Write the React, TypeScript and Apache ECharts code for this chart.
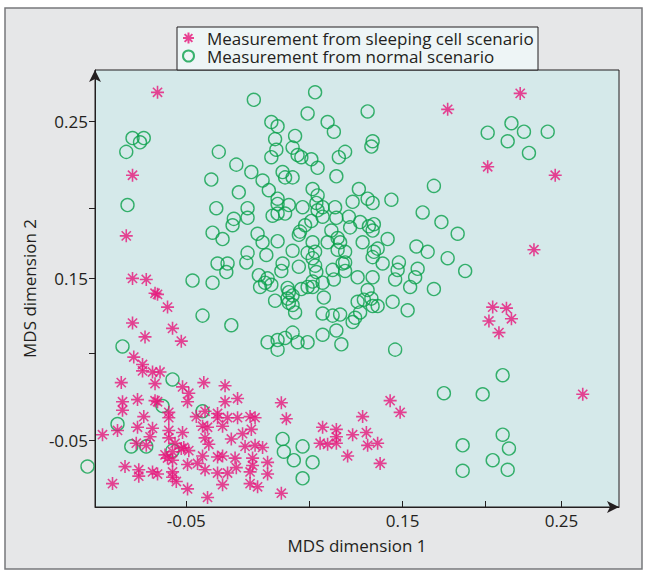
import React, { useEffect, useRef } from "react";
import * as echarts from "echarts";

const normalPoints: [number, number][] = [
  [-0.093, 0.234], [-0.087, 0.230], [-0.084, 0.234], [-0.098, 0.221], [-0.097, 0.171],
  [-0.101, 0.038], [-0.061, 0.007], [-0.069, -0.018], [-0.037, -0.023], [-0.105, -0.035],
  [-0.094, -0.056], [-0.082, -0.056], [-0.061, -0.060], [-0.129, -0.075], [-0.037, 0.067],
  [-0.014, 0.058], [0.027, -0.049], [0.028, -0.061], [0.043, -0.056], [0.036, -0.069],
  [0.051, -0.071], [0.043, -0.086], [0.117, 0.035], [0.203, 0.011], [0.156, -0.006],
  [0.187, -0.007], [0.203, -0.045], [0.208, -0.058], [0.171, -0.055], [0.195, -0.069],
  [0.171, -0.079], [0.207, -0.078], [0.191, 0.239], [0.210, 0.248], [0.220, 0.240],
  [0.207, 0.231], [0.224, 0.220], [0.239, 0.240],
  [0.004, 0.270], [0.053, 0.277], [0.047, 0.257], [0.018, 0.249], [0.023, 0.245], [0.063, 0.249], [0.068, 0.240], [0.095, 0.259], [0.037, 0.236], [0.021, 0.233],
  [0.035, 0.225], [0.039, 0.218], [0.042, 0.216], [0.022, 0.223], [0.018, 0.216], [0.050, 0.214], [0.055, 0.206], [0.099, 0.231], [0.098, 0.226], [0.077, 0.221],
  [0.072, 0.216], [0.070, 0.198], [0.027, 0.202], [0.029, 0.197], [0.035, 0.197], [0.002, 0.202], [0.011, 0.194], [0.016, 0.185], [-0.010, 0.209], [-0.024, 0.221],
  [-0.030, 0.195], [-0.008, 0.183], [-0.026, 0.168], [-0.001, 0.168], [0.023, 0.177], [0.023, 0.172], [0.032, 0.171], [0.043, 0.169], [0.051, 0.186], [0.055, 0.180],
  [0.054, 0.173], [0.019, 0.161], [0.023, 0.163], [0.029, 0.163], [-0.012, 0.158], [-0.001, 0.159], [-0.013, 0.152], [-0.029, 0.145], [-0.021, 0.139], [0.059, 0.169],
  [0.069, 0.169], [0.080, 0.160], [0.070, 0.159], [0.088, 0.186], [0.095, 0.177], [0.099, 0.173], [0.083, 0.174], [0.114, 0.176], [0.148, 0.189], [0.139, 0.164],
  [0.154, 0.155], [0.167, 0.144], [0.089, 0.155], [0.096, 0.151], [0.100, 0.153], [0.099, 0.147], [0.081, 0.150], [0.111, 0.139], [0.091, 0.136], [0.066, 0.147],
  [0.063, 0.136], [0.071, 0.140], [0.073, 0.136], [0.077, 0.127], [0.071, 0.129], [0.077, 0.117], [0.067, 0.110], [0.068, 0.101], [0.075, 0.116], [0.077, 0.109],
  [0.087, 0.103], [0.099, 0.103], [0.103, 0.130], [0.100, 0.127], [0.099, 0.122], [0.107, 0.116], [0.120, 0.117], [0.119, 0.110], [0.117, 0.101], [0.134, 0.132],
  [0.143, 0.127], [0.159, 0.121], [0.135, 0.111], [0.133, 0.103], [0.129, 0.094], [0.148, 0.092], [0.173, 0.109], [0.095, 0.091], [0.087, 0.080], [0.092, 0.082],
  [0.098, 0.083], [0.099, 0.076], [0.103, 0.076], [0.115, 0.080], [0.127, 0.072], [0.060, 0.084], [0.059, 0.069], [0.067, 0.067], [0.073, 0.068], [0.083, 0.061],
  [0.085, 0.065], [0.089, 0.070], [0.070, 0.053], [0.059, 0.049], [0.074, 0.040], [0.051, 0.136], [0.053, 0.127], [0.051, 0.121], [0.053, 0.114], [0.054, 0.108],
  [0.051, 0.094], [0.059, 0.098], [0.041, 0.146], [0.040, 0.143], [0.045, 0.152], [0.050, 0.156], [0.007, 0.144], [0.011, 0.136], [0.014, 0.124], [0.023, 0.137],
  [0.035, 0.128], [0.040, 0.113], [0.047, 0.126], [-0.001, 0.126], [-0.002, 0.117], [-0.025, 0.116], [-0.017, 0.116], [-0.018, 0.108], [-0.045, 0.100], [-0.029, 0.098],
  [0.027, 0.116], [0.026, 0.109], [0.008, 0.105], [0.009, 0.094], [0.015, 0.102], [0.018, 0.096], [0.013, 0.098], [0.031, 0.093], [0.021, 0.081], [0.032, 0.089],
  [0.035, 0.086], [0.032, 0.079], [0.035, 0.077], [0.037, 0.070], [0.031, 0.083], [0.042, 0.092], [0.047, 0.094], [0.051, 0.099], [0.015, 0.042], [0.023, 0.044],
  [0.023, 0.035], [0.029, 0.046], [0.035, 0.051], [0.039, 0.042], [0.047, 0.042], [0.059, 0.160], [0.055, 0.166],
];

const sleepingPoints: [number, number][] = [
  [-0.073, 0.277], [-0.093, 0.199], [-0.098, 0.142], [-0.093, 0.102], [-0.082, 0.101], [-0.075, 0.088], [-0.073, 0.087], [-0.065, 0.075], [-0.093, 0.060], [-0.061, 0.055],
  [-0.083, 0.047], [-0.054, 0.043], [0.159, 0.261], [0.217, 0.276], [0.191, 0.207], [0.245, 0.199], [0.228, 0.129], [0.195, 0.075], [0.206, 0.074], [0.192, 0.062],
  [0.210, 0.064], [0.200, 0.051], [0.267, -0.007], [0.113, -0.013], [0.121, -0.024], [0.091, -0.028], [0.070, -0.040], [0.070, -0.047], [0.070, -0.053], [0.059, -0.038],
  [0.057, -0.053], [0.063, -0.054], [0.083, -0.045], [0.094, -0.043], [0.095, -0.055], [0.103, -0.053], [0.079, -0.065], [0.105, -0.072],
  [-0.092, 0.028], [-0.085, 0.021], [-0.085, 0.015], [-0.077, 0.014], [-0.071, 0.014], [-0.102, 0.004], [-0.075, 0.003], [-0.036, 0.004], [-0.019, 0.001], [-0.053, 0.000],
  [-0.048, -0.006], [-0.049, -0.014], [-0.009, -0.011], [0.026, -0.015], [0.030, -0.030], [-0.101, -0.014], [-0.101, -0.022], [-0.089, -0.012], [-0.075, -0.013], [-0.073, -0.014],
  [-0.019, -0.014], [-0.064, -0.024], [-0.064, -0.029], [-0.084, -0.028], [-0.117, -0.045], [-0.105, -0.041], [-0.089, -0.038], [-0.077, -0.039], [-0.079, -0.047], [-0.064, -0.041],
  [-0.064, -0.048], [-0.053, -0.043], [-0.042, -0.028], [-0.035, -0.023], [-0.025, -0.025], [-0.025, -0.029], [-0.017, -0.029], [-0.009, -0.029], [0.001, -0.028], [0.005, -0.029],
  [-0.037, -0.037], [-0.033, -0.038], [-0.021, -0.037], [0.002, -0.040], [-0.005, -0.044], [-0.035, -0.048], [-0.032, -0.054], [-0.014, -0.049], [-0.090, -0.053], [-0.082, -0.055],
  [-0.059, -0.053], [-0.052, -0.057], [-0.048, -0.060], [-0.003, -0.056], [0.005, -0.055], [0.011, -0.057], [-0.067, -0.064], [-0.065, -0.067], [-0.061, -0.061], [-0.061, -0.069],
  [-0.054, -0.058], [-0.037, -0.065], [-0.025, -0.066], [-0.021, -0.065], [-0.011, -0.067], [0.003, -0.067], [-0.049, -0.073], [-0.041, -0.072], [-0.010, -0.076], [0.003, -0.074],
  [0.015, -0.071], [-0.099, -0.075], [-0.088, -0.078], [-0.088, -0.084], [-0.077, -0.080], [-0.073, -0.082], [-0.061, -0.080], [-0.061, -0.085], [-0.058, -0.089], [-0.035, -0.078],
  [-0.025, -0.081], [-0.017, -0.081], [0.001, -0.080], [0.015, -0.082], [-0.109, -0.091], [-0.049, -0.096], [-0.021, -0.092], [0.001, -0.091], [0.007, -0.094], [-0.033, -0.104],
  [0.026, -0.100],
];

const xTickValues = [-0.05, 0.048, 0.123, 0.189, 0.25];
const xTickLabels = ["-0.05", "", "0.15", "", "0.25"];
const yTickValues = [-0.05, 0.032, 0.102, 0.168, 0.25];
const yTickLabels = ["-0.05", "", "0.15", "", "0.25"];

const SLEEP_NAME = "Measurement from sleeping cell scenario";
const NORMAL_NAME = "Measurement from normal scenario";

const FONT = "'Open Sans', sans-serif";
const TEXT = "#231f20";
const STAR = "path://M0,-10 L0,10 M-10,0 L10,0 M-7.07,-7.07 L7.07,7.07 M-7.07,7.07 L7.07,-7.07";

function lookup(values: number[], labels: string[], v: number) {
  const i = values.findIndex((t) => Math.abs(t - v) < 1e-6);
  return i >= 0 ? labels[i] : "";
}

export default function App() {
  const ref = useRef<HTMLDivElement>(null);
  useEffect(() => {
    if (!ref.current) return;
    const chart = echarts.init(ref.current, undefined, { renderer: "svg" });
    chart.setOption({
      animation: false,
      graphic: [
        {
          type: "rect",
          z: -10,
          silent: true,
          shape: { x: 5, y: 8, width: 637, height: 561 },
          style: { fill: "#e6e7e8", stroke: "#77787b", lineWidth: 1.5 },
        },
        {
          type: "rect",
          z: 1,
          silent: true,
          shape: { x: 177, y: 27, width: 361, height: 43 },
          style: { fill: "#eef5f6", stroke: TEXT, lineWidth: 1 },
        },
      ],
      grid: {
        left: 95,
        top: 70,
        right: 26,
        bottom: 64,
        show: true,
        backgroundColor: "#d5e9ea",
        borderColor: TEXT,
        borderWidth: 1,
      },
      legend: {
        orient: "vertical",
        left: 182,
        top: 29,
        padding: 0,
        itemGap: 0,
        itemWidth: 11,
        itemHeight: 11,
        z: 5,
        data: [SLEEP_NAME, NORMAL_NAME],
        textStyle: { fontFamily: FONT, fontSize: 17, color: TEXT, lineHeight: 18, padding: [0, 0, 0, 8] },
      },
      xAxis: {
        type: "value",
        min: -0.123,
        max: 0.296,
        name: "MDS dimension 1",
        nameLocation: "middle",
        nameGap: 30,
        nameTextStyle: { fontFamily: FONT, fontSize: 17, color: TEXT },
        axisLine: { show: true, onZero: false, symbol: ["none", "arrow"], symbolSize: [9, 12], lineStyle: { color: TEXT, width: 1 } },
        axisTick: { show: true, inside: true, length: 6, customValues: xTickValues, lineStyle: { color: TEXT } },
        axisLabel: {
          customValues: xTickValues,
          fontFamily: FONT,
          fontSize: 17,
          color: TEXT,
          margin: 5,
          formatter: (v: number) => lookup(xTickValues, xTickLabels, v),
        },
        splitLine: { show: false },
      },
      yAxis: {
        type: "value",
        min: -0.113,
        max: 0.298,
        name: "MDS dimension 2",
        nameLocation: "middle",
        nameRotate: 90,
        nameGap: 44,
        nameTextStyle: { fontFamily: FONT, fontSize: 17, color: TEXT },
        axisLine: { show: true, onZero: false, symbol: ["none", "arrow"], symbolSize: [9, 12], lineStyle: { color: TEXT, width: 1 } },
        axisTick: { show: true, inside: false, length: 6, customValues: yTickValues, lineStyle: { color: TEXT } },
        axisLabel: {
          customValues: yTickValues,
          fontFamily: FONT,
          fontSize: 17,
          color: TEXT,
          margin: 7,
          formatter: (v: number) => lookup(yTickValues, yTickLabels, v),
        },
        splitLine: { show: false },
      },
      series: [
        {
          name: NORMAL_NAME,
          type: "scatter",
          data: normalPoints,
          symbol: "circle",
          symbolSize: 13,
          clip: false,
          z: 2,
          itemStyle: { color: "rgba(0,0,0,0)", borderColor: "#0aa04b", borderWidth: 1.4 },
          emphasis: { disabled: true },
        },
        {
          name: SLEEP_NAME,
          type: "scatter",
          data: sleepingPoints,
          symbol: STAR,
          symbolSize: 13,
          clip: false,
          z: 3,
          itemStyle: { color: "rgba(0,0,0,0)", borderColor: "#e6177a", borderWidth: 1.6 },
          emphasis: { disabled: true },
        },
      ],
    });
    return () => chart.dispose();
  }, []);
  return <div ref={ref} style={{ position: "absolute", left: 0, top: 0, width: 645, height: 571 }} />;
}
